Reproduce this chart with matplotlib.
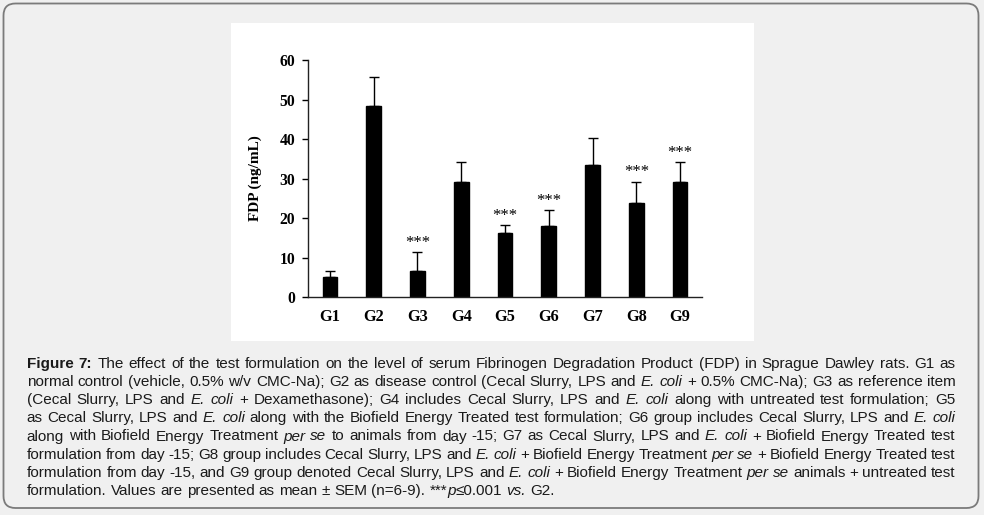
import re
import matplotlib
matplotlib.use("Agg")
import matplotlib.pyplot as plt
from matplotlib.patches import FancyBboxPatch, Rectangle
from matplotlib.transforms import IdentityTransform

# data
groups = ["G1", "G2", "G3", "G4", "G5", "G6", "G7", "G8", "G9"]
fdp_mean = [5.0, 48.3, 6.5, 29.0, 16.1, 18.1, 33.3, 23.7, 29.2]
fdp_sem = [1.7, 7.3, 4.8, 5.3, 2.2, 3.8, 7.0, 5.5, 4.9]
significant = [False, False, True, False, True, True, False, True, True]

caption_lines = [
    "<b>Figure 7:</b> The effect of the test formulation on the level of serum Fibrinogen Degradation Product (FDP) in Sprague Dawley rats. G1 as",
    "normal control (vehicle, 0.5% w/v CMC-Na); G2 as disease control (Cecal Slurry, LPS and <i>E. coli</i> + 0.5% CMC-Na); G3 as reference item",
    "(Cecal Slurry, LPS and <i>E. coli</i> + Dexamethasone); G4 includes Cecal Slurry, LPS and <i>E. coli</i> along with untreated test formulation; G5",
    "as Cecal Slurry, LPS and <i>E. coli</i> along with the Biofield Energy Treated test formulation; G6 group includes Cecal Slurry, LPS and <i>E. coli</i>",
    "along with Biofield Energy Treatment <i>per se</i> to animals from day -15; G7 as Cecal Slurry, LPS and <i>E. coli</i> + Biofield Energy Treated test",
    "formulation from day -15; G8 group includes Cecal Slurry, LPS and <i>E. coli</i> + Biofield Energy Treatment <i>per se</i> + Biofield Energy Treated test",
    "formulation from day -15, and G9 group denoted Cecal Slurry, LPS and <i>E. coli</i> + Biofield Energy Treatment <i>per se</i> animals + untreated test",
    "formulation. Values are presented as mean ± SEM (n=6-9). ***<i>p</i>≤0.001 <i>vs.</i> G2.",
]

W, H = 984, 515
fig = plt.figure(figsize=(W / 100, H / 100), dpi=100)
fig.patch.set_facecolor("#f0f0f0")

# rounded frame around everything
frame = FancyBboxPatch((3.5, 7), 975, 504.5, boxstyle="round,pad=0,rounding_size=12",
                       transform=IdentityTransform(), facecolor="none",
                       edgecolor="#7b7b7b", linewidth=1.3, zorder=-1)
fig.patches.append(frame)

# white panel behind the chart
panel = Rectangle((231 / W, 1 - 341 / H), (754 - 231) / W, (341 - 23) / H,
                  transform=fig.transFigure, facecolor="white", edgecolor="none",
                  zorder=-1)
fig.patches.append(panel)

ax = fig.add_axes([308 / W, 1 - 297 / H, (702 - 308) / W, (297 - 60) / H])
ax.set_zorder(2)
ax.set_facecolor("none")
x = range(len(groups))
ax.bar(x, fdp_mean, width=0.335, color="black", edgecolor="black")
ax.errorbar(x, fdp_mean, yerr=[[0] * len(groups), fdp_sem], fmt="none",
            ecolor="black", elinewidth=1, capsize=3.5, capthick=1)
for i in x:
    if significant[i]:
        ax.text(i, fdp_mean[i] + fdp_sem[i] + 0.3, "***", ha="center", va="bottom",
                fontsize=12, family="Liberation Serif", color="black")

ax.set_xlim(-0.5, len(groups) - 0.5)
ax.set_ylim(0, 60)
ax.set_yticks(range(0, 61, 10))
ax.set_xticks(list(x))
ax.set_xticklabels(groups)
for s in ["top", "right"]:
    ax.spines[s].set_visible(False)
for s in ["left", "bottom"]:
    ax.spines[s].set_linewidth(1)
    ax.spines[s].set_color("#222222")
ax.tick_params(axis="y", direction="out", length=4, width=1, pad=5)
ax.tick_params(axis="x", length=0, pad=8.5)
for lab in ax.get_yticklabels():
    lab.set_fontproperties({"family": "Liberation Serif", "weight": "bold", "size": 11.3})
for lab in ax.get_xticklabels():
    lab.set_fontproperties({"family": "Liberation Serif", "weight": "bold", "size": 11.8})
ax.set_ylabel("FDP (ng/mL)", family="Liberation Serif", weight="bold", fontsize=11,
              labelpad=13)

# caption, justified like the source page
renderer = fig.canvas.get_renderer()
left, right = 26.7, 955.7
base0, step = 367.7, 18.2
cap_font = dict(family="Liberation Sans", fontsize=11, color="#1a1a1a")


def parse_words(line):
    words, cur = [], []
    for tag, inner, plain in re.findall(r"<(i|b)>(.*?)</\1>|([^<]+)", line):
        text = inner if tag else plain
        parts = text.split(" ")
        for k, part in enumerate(parts):
            if k > 0 and cur:
                words.append(cur)
                cur = []
            if part:
                cur.append((part, tag))
    if cur:
        words.append(cur)
    return words


def style(tag):
    kw = dict(cap_font)
    if tag == "i":
        kw["style"] = "italic"
    if tag == "b":
        kw["weight"] = "bold"
    return kw


probe_a = fig.text(0, 0, "a a", **cap_font)
probe_b = fig.text(0, 0, "aa", **cap_font)
space_w = probe_a.get_window_extent(renderer).width - probe_b.get_window_extent(renderer).width
probe_a.remove()
probe_b.remove()

for n, line in enumerate(caption_lines):
    y = 1 - (base0 + n * step) / H
    words = parse_words(line)
    placed = []
    for word in words:
        items, w = [], 0
        for txt, tag in word:
            t = fig.text(0, y, txt, va="baseline", ha="left", **style(tag))
            tw = t.get_window_extent(renderer).width
            items.append((t, w))
            w += tw
        placed.append((items, w))
    total = sum(w for _, w in placed)
    if n < len(caption_lines) - 1 and len(placed) > 1:
        gap = (right - left - total) / (len(placed) - 1)
    else:
        gap = space_w
    xpos = left
    for items, w in placed:
        for t, off in items:
            t.set_x((xpos + off) / W)
        xpos += w + gap

fig.savefig("out.png", dpi=100, facecolor=fig.get_facecolor())
